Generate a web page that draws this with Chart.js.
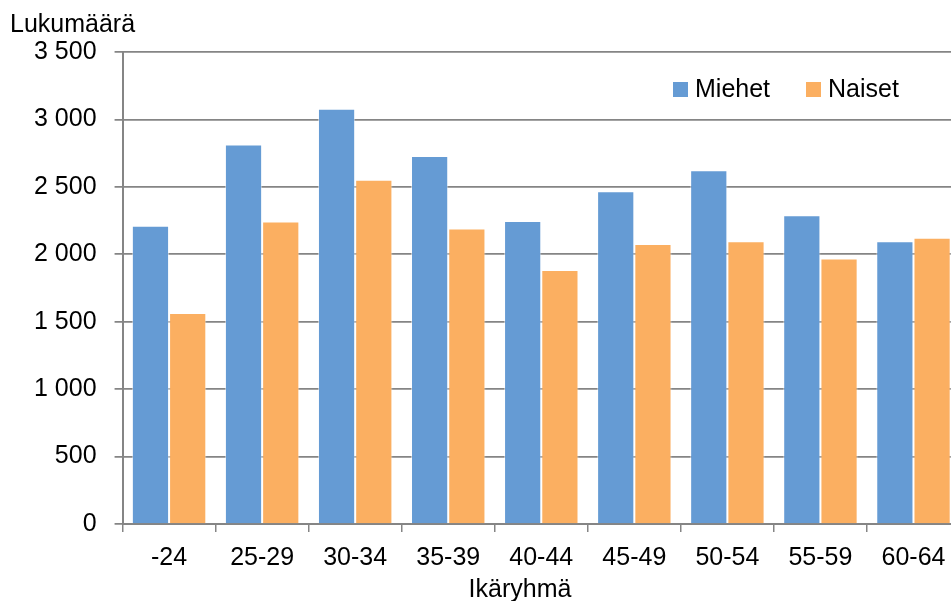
<!DOCTYPE html>
<html>
<head>
<meta charset="utf-8">
<script src="https://cdn.jsdelivr.net/npm/chart.js@4/dist/chart.umd.min.js"></script>
<style>
  html, body { margin: 0; padding: 0; background: #fff; overflow: hidden; }
  #wrap { position: relative; width: 960px; height: 601px; }
</style>
</head>
<body>
<div id="wrap"><canvas id="myChart"></canvas></div>
<script>
const ageGroups = ["-24", "25-29", "30-34", "35-39", "40-44", "45-49", "50-54", "55-59", "60-64"];
const miehet = [2211, 2815, 3080, 2728, 2246, 2468, 2624, 2290, 2097];
const naiset = [1565, 2243, 2552, 2191, 1884, 2077, 2097, 1969, 2122];
const yTitle = "Lukumäärä";
const xTitle = "Ikäryhmä";

const FONT = "'Liberation Sans', Arial, sans-serif";
const gridGray = "#858585";

// titles and legend are drawn by hand, the way the original places them
const extras = {
  id: "extras",
  afterDraw(chart) {
    const ctx = chart.ctx;
    const area = chart.chartArea;
    ctx.save();
    ctx.fillStyle = "#000";
    ctx.font = "25px " + FONT;
    ctx.textBaseline = "alphabetic";
    ctx.textAlign = "left";
    ctx.fillText(yTitle, 10, 32);
    ctx.textAlign = "center";
    ctx.fillText(xTitle, 520, 597);

    // legend inside the plot, top right
    ctx.textAlign = "left";
    let x = 673;
    chart.data.datasets.forEach((ds) => {
      ctx.fillStyle = ds.backgroundColor;
      ctx.fillRect(x, area.top + 30, 15, 15);
      ctx.fillStyle = "#000";
      ctx.fillText(ds.label, x + 22, area.top + 45);
      x += 133;
    });
    ctx.restore();
  },
};

var chart = new Chart("myChart", {
  type: "bar",
  data: {
    labels: ageGroups,
    datasets: [
      {
        label: "Miehet",
        data: miehet,
        backgroundColor: "#659bd4",
        borderColor: "rgba(255,255,255,0.5)",
        borderWidth: 1,
      },
      {
        label: "Naiset",
        data: naiset,
        backgroundColor: "#fbaf61",
        borderColor: "rgba(255,255,255,0.5)",
        borderWidth: 1,
      },
    ],
  },
  options: {
    responsive: true,
    maintainAspectRatio: false,
    animation: false,
    categoryPercentage: 0.8,
    barPercentage: 1.0,
    layout: { padding: { left: 16, right: 0, top: 52, bottom: 16 } },
    plugins: {
      legend: { display: false },
      tooltip: { enabled: false },
    },
    scales: {
      x: {
        grid: {
          display: true,
          drawOnChartArea: false,
          drawTicks: true,
          tickLength: 8,
          color: gridGray,
          lineWidth: 1.5,
          offset: true,
        },
        border: { color: gridGray, width: 2 },
        ticks: {
          color: "#000",
          font: { family: FONT, size: 25 },
          padding: 11.5,
          maxRotation: 0,
          autoSkip: false,
        },
      },
      y: {
        min: 0,
        max: 3500,
        grid: {
          color: gridGray,
          lineWidth: 1.75,
          tickLength: 8,
        },
        border: { color: gridGray, width: 2 },
        ticks: {
          stepSize: 500,
          color: "#000",
          font: { family: FONT, size: 25 },
          padding: 18,
          callback: (v) => String(v).replace(/\B(?=(\d{3})+(?!\d))/g, " "),
        },
      },
    },
  },
  plugins: [extras],
});
</script>
</body>
</html>
